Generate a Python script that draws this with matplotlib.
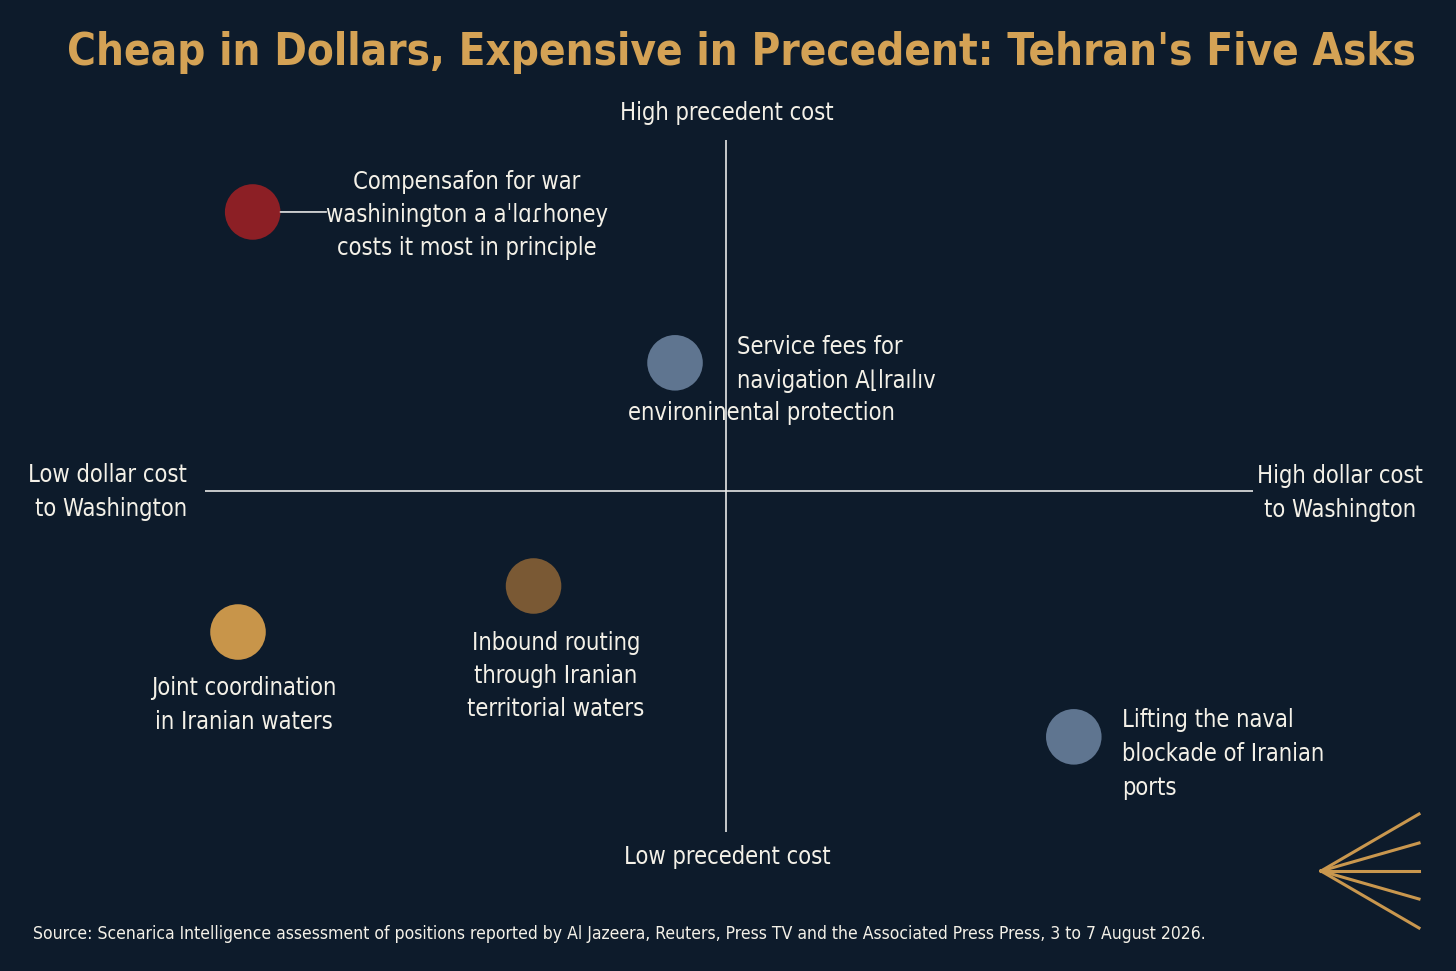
import matplotlib
matplotlib.use('Agg')
from matplotlib import pyplot as plt
from matplotlib.lines import Line2D

# positions on a -10..10 grid: dollar cost (x) vs precedent cost (y)
asks = ['compensation', 'service_fees', 'inbound_routing', 'joint_coordination', 'lifting_blockade']
dollar_cost = [-9.03, -0.97, -3.67, -9.31, 6.64]
precedent_cost = [8.06, 3.70, -2.75, -4.08, -7.11]
colors = ['#8c1f25', '#5f7590', '#7a5934', '#c8954a', '#5f7590']

title = "Cheap in Dollars, Expensive in Precedent: Tehran's Five Asks"
source = ('Source: Scenarica Intelligence assessment of positions reported by Al Jazeera, Reuters, '
          'Press TV and the Associated Press Press, 3 to 7 August 2026.')

BG = '#0d1b2b'
GOLD = '#d4a255'
TXT = '#f4f1e8'
W, H = 1456, 971

plt.rcParams['font.family'] = ['DejaVu Sans']
plt.rcParams['font.stretch'] = 'condensed'


def px(x, y):
    return x / W, 1 - y / H


def main():
    fig = plt.figure(figsize=(W / 100, H / 100), dpi=100, facecolor=BG)
    ax = fig.add_axes([205 / W, (H - 832) / H, 1048 / W, 692 / H])
    ax.set_facecolor(BG)
    ax.set_xlim(-9.94, 10.06)
    ax.set_ylim(-9.86, 10.14)
    ax.axis('off')

    ax.axhline(0, color='#e6e6e6', lw=1.2)
    ax.axvline(0, color='#e6e6e6', lw=1.2)

    ax.scatter(dollar_cost, precedent_cost, s=1600, c=colors, edgecolors='none', zorder=3)

    fs = 17
    ls = 1.48
    # Compensation
    ax.annotate('', xy=(dollar_cost[0], precedent_cost[0]), xytext=(53, 0), textcoords='offset points',
                arrowprops=dict(arrowstyle='-', color='#e6e6e6', lw=1.2, shrinkA=0, shrinkB=20))
    fig.text(*px(467, 215), 'Compensafon for war\nwashinington a aˈlɑɾhoney\ncosts it most in principle',
             ha='center', va='center', fontsize=fs, color=TXT, linespacing=ls)
    # Service fees
    fig.text(*px(737, 364), 'Service fees for\nnavigation A⌊lraılıv',
             ha='left', va='center', fontsize=fs, color=TXT, linespacing=ls)
    fig.text(*px(628, 413), 'environinental protection',
             ha='left', va='center', fontsize=fs, color=TXT)
    # Inbound routing
    fig.text(*px(556, 676), 'Inbound routing\nthrough Iranian\nterritorial waters',
             ha='center', va='center', fontsize=fs, color=TXT, linespacing=ls)
    # Joint coordination
    fig.text(*px(244, 705), 'Joint coordination\nin Iranian waters',
             ha='center', va='center', fontsize=fs, color=TXT, linespacing=ls)
    # Lifting blockade
    fig.text(*px(1122, 754), 'Lifting the naval\nblockade of Iranian\nports',
             ha='left', va='center', fontsize=fs, color=TXT, linespacing=1.55)

    # axis end labels
    fig.text(*px(727, 113), 'High precedent cost', ha='center', va='center', fontsize=fs, color=TXT)
    fig.text(*px(727, 857), 'Low precedent cost', ha='center', va='center', fontsize=fs, color=TXT)
    fig.text(*px(187, 492), 'Low dollar cost\nto Washington', ha='right', va='center',
             multialignment='right', fontsize=fs, color=TXT, linespacing=ls)
    fig.text(*px(1340, 493), 'High dollar cost\nto Washington', ha='center', va='center',
             fontsize=fs, color=TXT, linespacing=ls)

    fig.text(*px(741, 52), title, ha='center', va='center', fontsize=31.5, fontweight='bold', color=GOLD)
    fig.text(*px(33, 934), source, ha='left', va='center', fontsize=12.6, color=TXT)

    # fan mark, bottom right
    apex = px(1321, 871)
    for ey in [814, 843, 871, 899, 928]:
        end = px(1419, ey)
        fig.add_artist(Line2D([apex[0], end[0]], [apex[1], end[1]], color='#c9974e', lw=2.2,
                              transform=fig.transFigure))

    fig.savefig('out.png', dpi=100, facecolor=BG)


if __name__ == '__main__':
    main()
